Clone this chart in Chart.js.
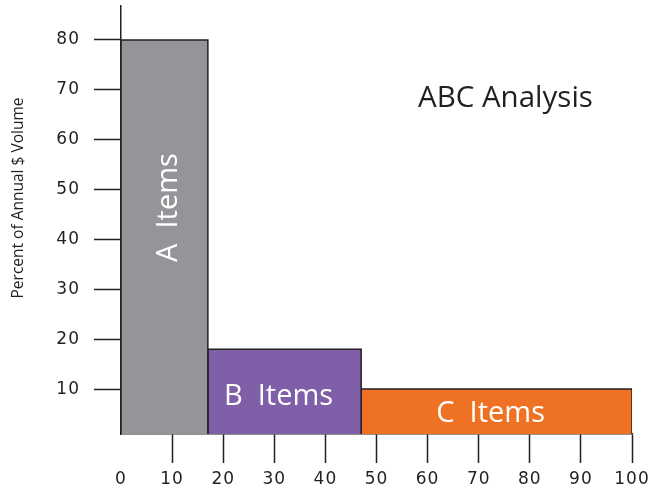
<!DOCTYPE html>
<html>
<head>
<meta charset="utf-8">
<script src="https://cdn.jsdelivr.net/npm/chart.js@4/dist/chart.umd.min.js"></script>
<style>
	html, body { margin: 0; padding: 0; background: #fff; }
	#wrap { width: 656px; height: 493px; }
</style>
</head>
<body>
<div id="wrap"><canvas id="chart"></canvas></div>
<script>
// percent of items in each class (bar widths) and percent of annual $ volume (bar heights)
const classNames = ['A', 'B', 'C'];
const itemShare = [17, 30, 53];
const volumeShare = [80, 18, 10];
const xTicks = [0, 10, 20, 30, 40, 50, 60, 70, 80, 90, 100];
const yTicks = [10, 20, 30, 40, 50, 60, 70, 80];

const classColors = ['#939598', '#7f5fa8', '#ef7124'];
const ink = '#231f20';
const Y_MIN = 1;
const Y_MAX = 86.8;

function buildDatasets() {
	let start = 0;
	return classNames.map((name, i) => {
		const end = start + itemShare[i];
		const top = volumeShare[i];
		const points = [
			{ x: start, y: Y_MIN },
			{ x: start, y: top },
			{ x: end, y: top },
			{ x: end, y: Y_MIN },
		];
		start = end;
		return {
			label: `${name}  Items`,
			data: points,
			backgroundColor: classColors[i],
			borderColor: ink,
			borderWidth: 1.5,
			fill: 'start',
			pointRadius: 0,
			tension: 0,
		};
	});
}

// class names written inside the bars, plus the free text of the figure
const labelsPlugin = {
	id: 'abcLabels',
	afterDatasetsDraw(chart) {
		const { ctx, scales } = chart;
		ctx.save();
		ctx.letterSpacing = '0px';
		ctx.fillStyle = '#fff';
		ctx.textAlign = 'center';
		ctx.textBaseline = 'middle';
		ctx.font = '29px "Open Sans"';
		let start = 0;
		classNames.forEach((name, i) => {
			const end = start + itemShare[i];
			const cx = scales.x.getPixelForValue((start + end) / 2);
			const text = `${name}  Items`;
			if (i === 0) {
				const cy = scales.y.getPixelForValue(volumeShare[i] * 0.58);
				ctx.save();
				ctx.translate(cx + 2, cy);
				ctx.rotate(-Math.PI / 2);
				ctx.fillText(text, 0, 2);
				ctx.restore();
			} else {
				const cy = scales.y.getPixelForValue((Y_MIN + volumeShare[i]) / 2);
				ctx.fillText(text, cx - 6, cy + (i === 1 ? 5 : 2));
			}
			start = end;
		});
		ctx.restore();
	},
	afterDraw(chart) {
		const { ctx } = chart;
		ctx.save();
		ctx.letterSpacing = '0px';
		ctx.fillStyle = ink;
		ctx.font = '29.5px "Open Sans"';
		ctx.textAlign = 'left';
		ctx.textBaseline = 'alphabetic';
		ctx.fillText('ABC Analysis', 418, 107);

		ctx.font = '15.5px "Open Sans"';
		ctx.textAlign = 'center';
		ctx.textBaseline = 'middle';
		ctx.translate(19, 198);
		ctx.rotate(-Math.PI / 2);
		ctx.fillText('Percent of Annual $ Volume', 0, 0);
		ctx.restore();
	},
	beforeDraw(chart) {
		chart.ctx.letterSpacing = '1px';
	},
};

const config = {
	type: 'line',
	data: { datasets: buildDatasets() },
	options: {
		responsive: true,
		maintainAspectRatio: false,
		animation: false,
		layout: { padding: { top: 6, right: 24, left: 0, bottom: 0 } },
		plugins: {
			legend: { display: false },
			tooltip: { enabled: false },
			title: { display: false },
		},
		scales: {
			x: {
				type: 'linear',
				min: 0,
				max: 100,
				afterBuildTicks: (scale) => {
					scale.ticks = xTicks.map((v) => ({ value: v }));
				},
				afterFit: (scale) => {
					scale.height = 59;
					scale.paddingLeft = 0;
					scale.paddingRight = 0;
				},
				grid: {
					drawOnChartArea: false,
					drawTicks: true,
					tickLength: 29,
					tickWidth: 1.5,
					tickColor: (c) => (c.tick && c.tick.value === 0 ? 'rgba(0,0,0,0)' : ink),
				},
				border: { color: ink, width: 1.5 },
				ticks: {
					color: ink,
					font: { family: 'DejaVu Sans', size: 17 },
					padding: 6,
					maxRotation: 0,
					autoSkip: false,
				},
			},
			y: {
				type: 'linear',
				min: Y_MIN,
				max: Y_MAX,
				afterBuildTicks: (scale) => {
					scale.ticks = yTicks.map((v) => ({ value: v }));
				},
				afterFit: (scale) => {
					scale.width = 121;
					scale.paddingTop = 0;
					scale.paddingBottom = 0;
				},
				grid: {
					drawOnChartArea: false,
					drawTicks: true,
					tickLength: 27,
					tickWidth: 1.5,
					tickColor: ink,
				},
				border: { color: ink, width: 1.5 },
				ticks: {
					color: ink,
					font: { family: 'DejaVu Sans', size: 17 },
					padding: 14,
					autoSkip: false,
				},
			},
		},
	},
	plugins: [labelsPlugin],
};

new Chart(document.getElementById('chart'), config);
</script>
</body>
</html>
